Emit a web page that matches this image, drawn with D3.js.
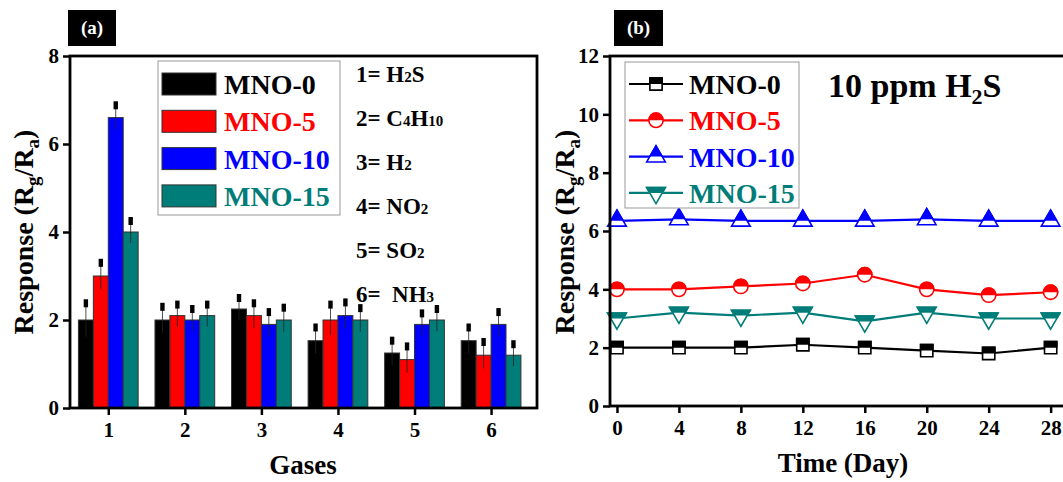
<!DOCTYPE html>
<html><head><meta charset="utf-8">
<script src="https://cdn.jsdelivr.net/npm/d3@7"></script>
<style>
html,body{margin:0;padding:0;background:#fff;}
svg text{font-family:"Liberation Serif","Times New Roman",serif;font-weight:bold;}
</style></head>
<body><svg id="c" width="1063" height="482"></svg>
<script>
// ---------- DATA ----------
const seriesNames = ["MNO-0","MNO-5","MNO-10","MNO-15"];
const seriesColors = ["#000000","#ff0000","#0000ff","#007d78"];
const gases = [1,2,3,4,5,6];
// panel (a): response per gas
const respMNO0  = [2.0, 2.0, 2.25, 1.53, 1.25, 1.53];
const respMNO5  = [3.0, 2.1, 2.1, 2.0, 1.1, 1.2];
const respMNO10 = [6.6, 2.0, 1.9, 2.1, 1.9, 1.9];
const respMNO15 = [4.0, 2.1, 2.0, 2.0, 2.0, 1.2];
const errMNO0  = [0.38, 0.3, 0.25, 0.3, 0.28, 0.3];
const errMNO5  = [0.3, 0.25, 0.28, 0.35, 0.3, 0.3];
const errMNO10 = [0.28, 0.25, 0.28, 0.3, 0.25, 0.28];
const errMNO15 = [0.25, 0.25, 0.28, 0.27, 0.25, 0.25];
const gasLabels = [["1= H","2","S"],["2= C","4","H","10"],["3= H","2"],["4= NO","2"],["5= SO","2"],["6=\u00a0 NH","3"]];
const yTicksA = [0,2,4,6,8];
// panel (b): stability over days
const days = [0,4,8,12,16,20,24,28];
const stabMNO0  = [2.0, 2.0, 2.0, 2.1, 2.0, 1.9, 1.8, 2.0];
const stabMNO5  = [4.0, 4.0, 4.1, 4.2, 4.5, 4.0, 3.8, 3.9];
const stabMNO10 = [6.35, 6.4, 6.35, 6.35, 6.35, 6.4, 6.35, 6.35];
const stabMNO15 = [3.0, 3.2, 3.1, 3.2, 2.9, 3.2, 3.0, 3.0];
const yTicksB = [0,2,4,6,8,10,12];
const xTicksB = [0,4,8,12,16,20,24,28];

const respA = [respMNO0, respMNO5, respMNO10, respMNO15];
const errA  = [errMNO0, errMNO5, errMNO10, errMNO15];
const stabB = [stabMNO0, stabMNO5, stabMNO10, stabMNO15];

const svg = d3.select("#c");
svg.append("rect").attr("width",1063).attr("height",482).attr("fill","#fff");

const defs = svg.append("defs");
defs.append("clipPath").attr("id","upperLocal")
  .append("rect").attr("x",-20).attr("y",-20).attr("width",40).attr("height",20);
defs.append("clipPath").attr("id","lowerLocal")
  .append("rect").attr("x",-20).attr("y",0).attr("width",40).attr("height",20);

function panelTag(x,y,w,h,label){
  svg.append("rect").attr("x",x).attr("y",y).attr("width",w).attr("height",h).attr("fill","#000");
  svg.append("text").attr("x",x+w/2).attr("y",y+h/2+6).attr("text-anchor","middle")
    .attr("fill","#fff").attr("font-size",19).text(label);
}
function yTitle(g,x,y){
  const t = g.append("text").attr("transform",`translate(${x},${y}) rotate(-90)`)
    .attr("text-anchor","middle").attr("font-size",28).attr("fill","#000");
  t.append("tspan").text("Response (R");
  t.append("tspan").attr("font-size",19).attr("dy",6).text("g");
  t.append("tspan").attr("dy",-6).text("/R");
  t.append("tspan").attr("font-size",19).attr("dy",6).text("a");
  t.append("tspan").attr("dy",-6).text(")");
}
function styleAxis(ax){
  ax.select(".domain").remove();
  ax.selectAll(".tick line").attr("stroke","#000").attr("stroke-width",2.5);
  ax.selectAll(".tick text").attr("font-size",21).attr("fill","#000");
}

// ---------------- Panel (a) ----------------
const A = {l:70, r:537, t:56, b:408};
const xA = d3.scaleLinear().domain([0.5,6.6]).range([A.l,A.r]);
const yA = d3.scaleLinear().domain([0,8]).range([A.b,A.t]);
const gA = svg.append("g");
const barW = 0.195;
const offsets = [-1.5,-0.5,0.5,1.5];

gases.forEach((gas,i)=>{
  respA.forEach((arr,s)=>{
    const xc = gas + offsets[s]*barW;
    const x0 = xA(xc - barW/2), x1 = xA(xc + barW/2);
    const v = arr[i], e = errA[s][i];
    gA.append("rect").attr("x",x0).attr("y",yA(v)).attr("width",x1-x0).attr("height",yA(0)-yA(v))
      .attr("fill",seriesColors[s]).attr("stroke","#333").attr("stroke-width",1);
    const xm = xA(xc);
    gA.append("line").attr("x1",xm).attr("x2",xm).attr("y1",yA(v-e)).attr("y2",yA(v+e))
      .attr("stroke","#222").attr("stroke-width",0.8);
    gA.append("rect").attr("x",xm-2.2).attr("y",yA(v+e)-4).attr("width",4.4).attr("height",8).attr("fill","#000");
  });
});

const axA_left = gA.append("g").attr("transform",`translate(${A.l},0)`)
  .call(d3.axisLeft(yA).tickValues(yTicksA).tickSize(7).tickPadding(4));
styleAxis(axA_left);
const axA_bot = gA.append("g").attr("transform",`translate(0,${A.b})`)
  .call(d3.axisBottom(xA).tickValues(gases).tickSize(7).tickPadding(7).tickFormat(d3.format("d")));
styleAxis(axA_bot);
gA.append("rect").attr("x",A.l).attr("y",A.t).attr("width",A.r-A.l).attr("height",A.b-A.t)
  .attr("fill","none").attr("stroke","#000").attr("stroke-width",2.8);

// legend (a)
gA.append("rect").attr("x",158).attr("y",61).attr("width",182).attr("height",154)
  .attr("fill","#fff").attr("stroke","#999").attr("stroke-width",1);
seriesNames.forEach((n,s)=>{
  const cy = 84 + s*37.3;
  gA.append("rect").attr("x",162).attr("y",cy-11).attr("width",54).attr("height",22)
    .attr("fill",seriesColors[s]).attr("stroke","#333").attr("stroke-width",1);
  gA.append("text").attr("x",224).attr("y",cy+10).attr("font-size",28).attr("fill",seriesColors[s]).text(n);
});
// gas key
gasLabels.forEach((parts,i)=>{
  const t = gA.append("text").attr("x",356).attr("y",82+i*44).attr("font-size",23).attr("fill","#000");
  parts.forEach((p,k)=>{
    t.append("tspan").attr("font-size",k%2===1?15:23).text(p);
  });
});
yTitle(gA,33,232);
gA.append("text").attr("x",303).attr("y",474).attr("text-anchor","middle").attr("font-size",27).text("Gases");
panelTag(68,10,48,36,"(a)");

// ---------------- Panel (b) ----------------
const B = {l:610, r:1070, t:56, b:406};
const xB = d3.scaleLinear().domain([-0.45,29.25]).range([B.l,B.r]);
const yB = d3.scaleLinear().domain([0,12]).range([B.b,B.t]);
const gB = svg.append("g");

const symTypes = [d3.symbolSquare, d3.symbolCircle, d3.symbolTriangle, d3.symbolTriangle];
const symRot = [0,0,0,180];
const symSize = [150,160,150,150];
const symClip = ["upperLocal","upperLocal","upperLocal","lowerLocal"];
function marker(g,x,y,s){
  const p = d3.symbol().type(symTypes[s]).size(symSize[s])();
  const gg = g.append("g").attr("transform",`translate(${x},${y}) rotate(${symRot[s]})`);
  gg.append("path").attr("d",p).attr("fill","#fff").attr("stroke",seriesColors[s]).attr("stroke-width",1.6);
  gg.append("path").attr("d",p).attr("fill",seriesColors[s]).attr("stroke",seriesColors[s]).attr("stroke-width",1.6)
    .attr("clip-path",`url(#${symClip[s]})`);
}

const line = d3.line().x((d,i)=>xB(days[i])).y(d=>yB(d));
stabB.forEach((arr,s)=>{
  gB.append("path").attr("d",line(arr)).attr("fill","none").attr("stroke",seriesColors[s]).attr("stroke-width",2.2);
  arr.forEach((v,i)=>marker(gB,xB(days[i]),yB(v),s));
});

const axB_left = gB.append("g").attr("transform",`translate(${B.l},0)`)
  .call(d3.axisLeft(yB).tickValues(yTicksB).tickSize(7).tickPadding(4));
styleAxis(axB_left);
const axB_bot = gB.append("g").attr("transform",`translate(0,${B.b})`)
  .call(d3.axisBottom(xB).tickValues(xTicksB).tickSize(7).tickPadding(7));
styleAxis(axB_bot);
gB.append("rect").attr("x",B.l).attr("y",B.t).attr("width",B.r-B.l).attr("height",B.b-B.t)
  .attr("fill","none").attr("stroke","#000").attr("stroke-width",2.8);

// legend (b)
gB.append("rect").attr("x",625).attr("y",62).attr("width",174).attr("height",146)
  .attr("fill","#fff").attr("stroke","#999").attr("stroke-width",1);
seriesNames.forEach((n,s)=>{
  const cy = 84 + s*36.3;
  gB.append("line").attr("x1",629).attr("x2",683).attr("y1",cy).attr("y2",cy)
    .attr("stroke",seriesColors[s]).attr("stroke-width",2.2);
  marker(gB,656,cy,s);
  gB.append("text").attr("x",689).attr("y",cy+10).attr("font-size",28).attr("fill",seriesColors[s]).text(n);
});
const tt = gB.append("text").attr("x",828).attr("y",97).attr("font-size",34).attr("fill","#000");
tt.append("tspan").text("10 ppm H");
tt.append("tspan").attr("font-size",22).attr("dy",7).text("2");
tt.append("tspan").attr("dy",-7).text("S");
yTitle(gB,574,232);
gB.append("text").attr("x",843).attr("y",472).attr("text-anchor","middle").attr("font-size",27).text("Time (Day)");
panelTag(614,10,49,36,"(b)");
</script></body></html>
